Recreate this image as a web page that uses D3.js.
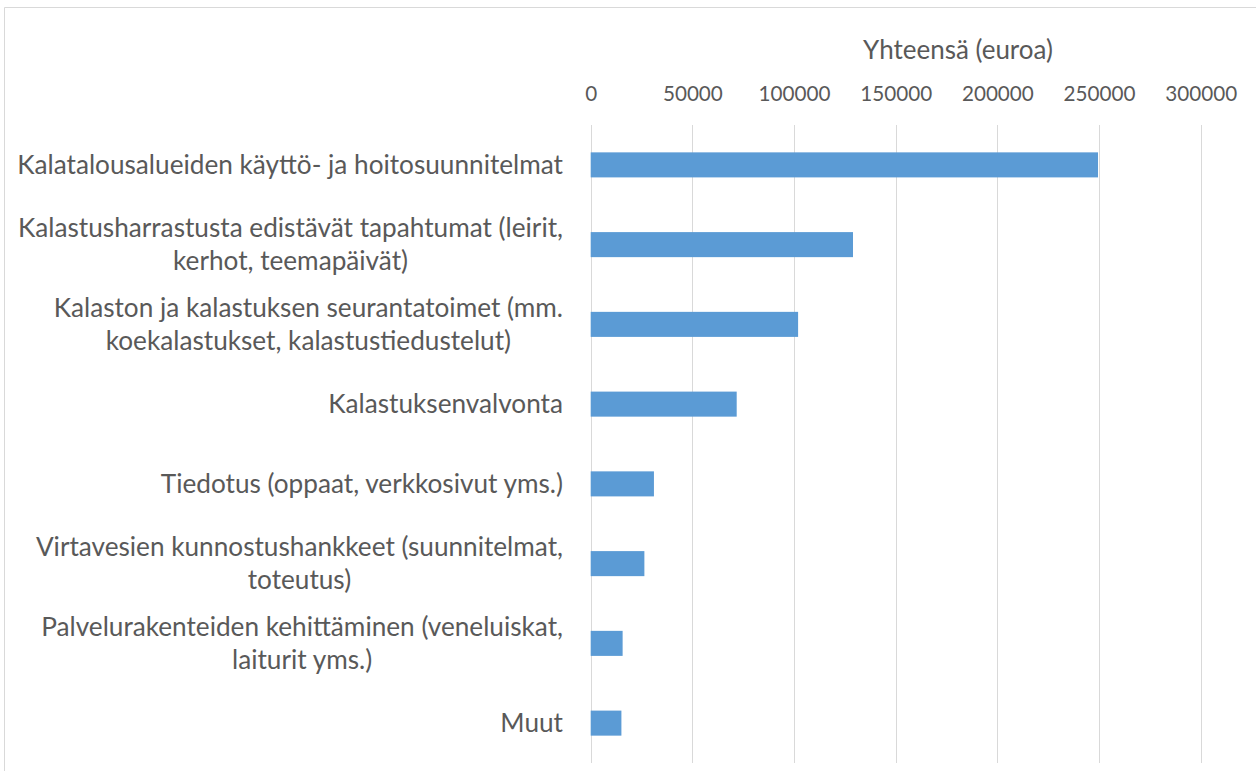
<!DOCTYPE html>
<html>
<head>
<meta charset="utf-8">
<script src="https://cdn.jsdelivr.net/npm/d3@7"></script>
<style>
  html, body { margin: 0; padding: 0; background: #fff; }
  svg { display: block; }
  text { font-family: Lato, "Open Sans", "DejaVu Sans", sans-serif; fill: #595959; }
</style>
</head>
<body>
<svg id="chart" width="1256" height="771"></svg>
<script>
const categories = [
  "Kalatalousalueiden käyttö- ja hoitosuunnitelmat",
  "Kalastusharrastusta edistävät tapahtumat (leirit,\nkerhot, teemapäivät)",
  "Kalaston ja kalastuksen seurantatoimet (mm.\nkoekalastukset, kalastustiedustelut)",
  "Kalastuksenvalvonta",
  "Tiedotus (oppaat, verkkosivut yms.)",
  "Virtavesien kunnostushankkeet (suunnitelmat,\ntoteutus)",
  "Palvelurakenteiden kehittäminen (veneluiskat,\nlaiturit yms.)",
  "Muut"
];
const values = [249500, 129000, 102000, 71800, 31100, 26400, 15700, 15100];
const tickValues = [0, 50000, 100000, 150000, 200000, 250000, 300000];
const axisTitle = "Yhteensä (euroa)";

const svg = d3.select("#chart");
const W = 1256, H = 771;

// border
svg.append("line").attr("x1", 4.5).attr("x2", W).attr("y1", 7.5).attr("y2", 7.5)
  .attr("stroke", "#d9d9d9").attr("stroke-width", 1);
svg.append("line").attr("x1", 4.5).attr("x2", 4.5).attr("y1", 7.5).attr("y2", H)
  .attr("stroke", "#d9d9d9").attr("stroke-width", 1);

const x = d3.scaleLinear().domain([0, 300000]).range([590.7, 1200.7]);
const y = d3.scaleBand().domain(d3.range(categories.length)).range([125, 763])
  .paddingInner(0.686).paddingOuter(0.343);

// gridlines
svg.append("g").selectAll("line").data(tickValues).join("line")
  .attr("x1", d => Math.round(x(d)) + 0.5).attr("x2", d => Math.round(x(d)) + 0.5)
  .attr("y1", 125).attr("y2", 763)
  .attr("stroke", "#d9d9d9").attr("stroke-width", 1);

// bars
svg.append("g").selectAll("rect").data(values).join("rect")
  .attr("x", x(0))
  .attr("y", (d, i) => y(i))
  .attr("width", d => x(d) - x(0))
  .attr("height", y.bandwidth())
  .attr("fill", "#5b9bd5");

// helper to fit font size to target width
function fitSize(str, target) {
  const t = svg.append("text").attr("font-size", 20).text(str);
  const w = t.node().getComputedTextLength();
  t.remove();
  return 20 * target / w;
}

// top axis
const tickFont = fitSize("300000", 72);
const axis = d3.axisTop(x).tickValues(tickValues).tickFormat(d3.format("d"))
  .tickSize(0).tickPadding(24);
const ag = svg.append("g").attr("transform", "translate(0,125)").call(axis);
ag.select(".domain").remove();
ag.selectAll("text").attr("font-size", tickFont)
  .attr("font-family", 'Lato, "Open Sans", sans-serif').attr("fill", "#595959");

// axis title
const titleFont = fitSize(axisTitle, 190);
svg.append("text").attr("x", 958).attr("y", 50).attr("dy", "0.35em")
  .attr("text-anchor", "middle").attr("font-size", titleFont).text(axisTitle);

// category labels
const labFont = fitSize("Kalatalousalueiden käyttö- ja hoitosuunnitelmat", 546);
const lineH = 33;
const rightX = 563;
categories.forEach((c, i) => {
  const lines = c.split("\n");
  const cy = y(i) + y.bandwidth() / 2;
  const g = svg.append("g");
  const texts = lines.map((ln, k) => g.append("text")
    .attr("font-size", labFont)
    .attr("y", cy + (k - (lines.length - 1) / 2) * lineH)
    .attr("dy", "0.35em")
    .attr("text-anchor", "middle")
    .text(ln));
  const maxW = d3.max(texts, t => t.node().getComputedTextLength());
  texts.forEach(t => t.attr("x", rightX - maxW / 2));
});
</script>
</body>
</html>
